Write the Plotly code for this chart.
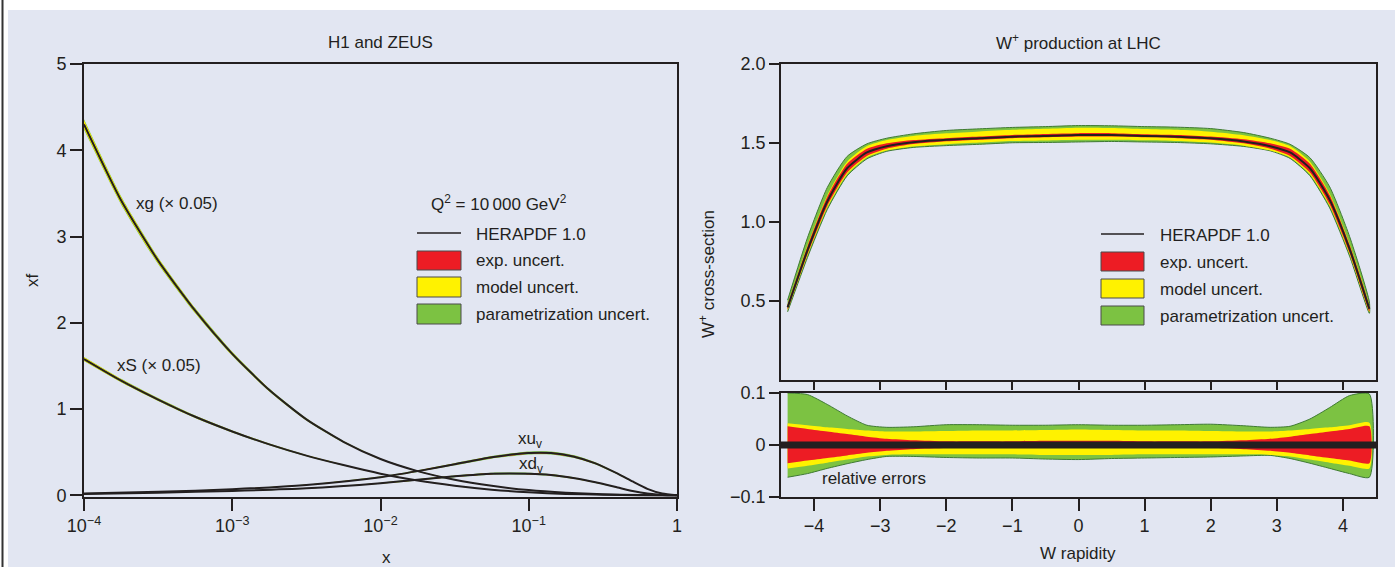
import plotly.graph_objects as go

W, H = 1395, 567
INK = "#231f20"
BG = "#e2e6f2"
RED = "#ed1c24"
YELLOW = "#fff200"
GREEN = "#7cc242"
GREEN_EDGE = "#3f7a34"
FONT = "Liberation Sans, Arial, sans-serif"

# ---------------- left panel: HERAPDF 1.0 at Q^2 = 10^4 GeV^2 ----------------
log_x_sea = [-4.0, -3.75, -3.5, -3.25, -3.0, -2.75, -2.5, -2.25, -2.0,
             -1.75, -1.5, -1.25, -1.0, -0.75, -0.5, -0.25, 0.0]
xg_scaled = [4.30, 3.42, 2.72, 2.14, 1.64, 1.22, 0.88, 0.62, 0.42,
             0.28, 0.18, 0.11, 0.06, 0.03, 0.011, 0.002, 0.0]
xS_scaled = [1.58, 1.33, 1.11, 0.91, 0.74, 0.59, 0.46, 0.35, 0.25,
             0.17, 0.11, 0.065, 0.035, 0.016, 0.006, 0.001, 0.0]

log_x_val = [-4.0, -3.5, -3.0, -2.5, -2.0, -1.75, -1.5, -1.25, -1.0,
             -0.85, -0.7, -0.55, -0.4, -0.3, -0.2, -0.1, 0.0]
xuv = [0.02, 0.04, 0.07, 0.12, 0.21, 0.28, 0.36, 0.44, 0.49,
       0.49, 0.45, 0.37, 0.25, 0.16, 0.075, 0.02, 0.0]
xdv = [0.015, 0.03, 0.05, 0.08, 0.14, 0.18, 0.22, 0.25, 0.25,
       0.235, 0.20, 0.15, 0.09, 0.05, 0.02, 0.004, 0.0]

# relative uncertainty per distribution: xg, xS, xuv, xdv
pdf_names = ["xg", "xS", "xuv", "xdv"]
rel_exp = [0.003, 0.004, 0.015, 0.02]
rel_model = [0.008, 0.008, 0.005, 0.006]
rel_param = [0.003, 0.003, 0.015, 0.02]

# ---------------- right panel: W+ production at LHC ----------------
rapidity = [-4.4, -4.1, -3.8, -3.5, -3.2, -2.9, -2.5, -2.0, -1.5, -1.0, -0.5, 0.0,
            0.5, 1.0, 1.5, 2.0, 2.5, 2.9, 3.2, 3.5, 3.8, 4.1, 4.4]
w_xsec = [0.46, 0.82, 1.13, 1.34, 1.44, 1.48, 1.505, 1.52, 1.53, 1.54, 1.545, 1.55,
          1.55, 1.545, 1.54, 1.53, 1.51, 1.48, 1.44, 1.34, 1.14, 0.83, 0.45]

# relative error band edges
green_hi = [0.100, 0.097, 0.078, 0.056, 0.038, 0.034, 0.035, 0.039, 0.039, 0.038, 0.038, 0.039,
            0.038, 0.038, 0.039, 0.040, 0.037, 0.034, 0.036, 0.050, 0.072, 0.095, 0.098]
yellow_hi = [0.042, 0.038, 0.034, 0.031, 0.028, 0.026, 0.026, 0.027, 0.028, 0.028, 0.029, 0.030,
             0.029, 0.028, 0.028, 0.027, 0.026, 0.026, 0.028, 0.031, 0.034, 0.038, 0.043]
red_hi = [0.036, 0.031, 0.026, 0.021, 0.016, 0.012, 0.009, 0.007, 0.007, 0.007, 0.008, 0.008,
          0.008, 0.007, 0.007, 0.007, 0.009, 0.012, 0.016, 0.021, 0.026, 0.031, 0.036]
red_lo = [-0.035, -0.030, -0.025, -0.020, -0.015, -0.011, -0.008, -0.006, -0.006, -0.006, -0.006, -0.006,
          -0.006, -0.006, -0.006, -0.006, -0.008, -0.011, -0.015, -0.020, -0.025, -0.030, -0.035]
yellow_lo = [-0.045, -0.040, -0.034, -0.028, -0.022, -0.019, -0.018, -0.018, -0.018, -0.018, -0.019, -0.019,
             -0.019, -0.018, -0.018, -0.018, -0.018, -0.019, -0.022, -0.028, -0.034, -0.040, -0.045]
green_lo = [-0.062, -0.055, -0.045, -0.036, -0.028, -0.022, -0.022, -0.024, -0.025, -0.025, -0.027, -0.028,
            -0.026, -0.025, -0.024, -0.023, -0.021, -0.020, -0.026, -0.035, -0.045, -0.055, -0.062]

sea_x = [10 ** v for v in log_x_sea]
val_x = [10 ** v for v in log_x_val]

fig = go.Figure()


def band(xs, lo, hi, color, xa, ya, edge=None):
    fig.add_trace(go.Scatter(
        x=list(xs) + list(xs)[::-1], y=list(hi) + list(lo)[::-1],
        fill="toself", fillcolor=color, mode="lines",
        line=dict(color=edge or color, width=1 if edge else 0, shape="spline", smoothing=0.6),
        xaxis=xa, yaxis=ya, hoverinfo="skip", showlegend=False))


def curve(xs, ys, xa, ya, width=2):
    fig.add_trace(go.Scatter(x=xs, y=ys, mode="lines",
                             line=dict(color=INK, width=width, shape="spline", smoothing=0.6),
                             xaxis=xa, yaxis=ya, hoverinfo="skip", showlegend=False))


# PDF bands: parametrization (outer), model, experimental (inner)
pdf_series = [(sea_x, xg_scaled), (sea_x, xS_scaled), (val_x, xuv), (val_x, xdv)]
for i, (xs, ys) in enumerate(pdf_series):
    e, m, p = rel_exp[i], rel_model[i], rel_param[i]
    for width, col in ((e + m + p, GREEN), (e + m, YELLOW), (e, RED)):
        band(xs, [v * (1 - width) for v in ys], [v * (1 + width) for v in ys], col, "x", "y")
for xs, ys in pdf_series:
    curve(xs, ys, "x", "y")

# W+ cross-section with bands
band(rapidity, [s * (1 + r) for s, r in zip(w_xsec, green_lo)],
     [s * (1 + r) for s, r in zip(w_xsec, green_hi)], GREEN, "x2", "y2", edge=GREEN_EDGE)
band(rapidity, [s * (1 + r) for s, r in zip(w_xsec, yellow_lo)],
     [s * (1 + r) for s, r in zip(w_xsec, yellow_hi)], YELLOW, "x2", "y2")
band(rapidity, [s * (1 + r) for s, r in zip(w_xsec, red_lo)],
     [s * (1 + r) for s, r in zip(w_xsec, red_hi)], RED, "x2", "y2")
curve(rapidity, w_xsec, "x2", "y2", width=2)

# relative errors
band(rapidity, green_lo, green_hi, GREEN, "x3", "y3", edge=GREEN_EDGE)
band(rapidity, yellow_lo, yellow_hi, YELLOW, "x3", "y3")
band(rapidity, red_lo, red_hi, RED, "x3", "y3")


def px_x(p):
    return p / W


def px_y(p):
    return 1 - p / H


tick_font = dict(family=FONT, size=18, color=INK)
axis_common = dict(showline=True, linecolor=INK, linewidth=1.6, mirror=True, automargin=False,
                   showgrid=False, zeroline=False, ticks="outside", tickcolor=INK,
                   tickwidth=1.5, tickfont=tick_font)

fig.update_layout(
    template="none",
    width=W, height=H, margin=dict(l=0, r=0, t=0, b=0, pad=0),
    paper_bgcolor="white", plot_bgcolor=BG, showlegend=False,
    font=dict(family=FONT, size=17, color=INK),
    xaxis=dict(domain=[px_x(84), px_x(677)], type="log", range=[-4, 0],
               tickvals=[1e-4, 1e-3, 1e-2, 1e-1, 1],
               ticktext=["10<sup>\u22124</sup>", "10<sup>\u22123</sup>", "10<sup>\u22122</sup>",
                         "10<sup>\u22121</sup>", "1"],
               ticklen=12, anchor="y", **axis_common),
    yaxis=dict(domain=[px_y(497), px_y(64)], range=[-0.02, 5], tickvals=[0, 1, 2, 3, 4, 5],
               ticklen=12, anchor="x", **axis_common),
    xaxis2=dict(domain=[px_x(781), px_x(1376)], range=[-4.5, 4.5], tickvals=[-4, -3, -2, -1, 0, 1, 2, 3, 4],
                showticklabels=False, ticklen=8, anchor="y2", **axis_common),
    yaxis2=dict(domain=[px_y(380), px_y(64)], range=[0, 2], tickvals=[0.5, 1.0, 1.5, 2.0],
                tickformat=".1f", ticklen=10, anchor="x2", **axis_common),
    xaxis3=dict(domain=[px_x(781), px_x(1376)], range=[-4.5, 4.5], tickvals=[-4, -3, -2, -1, 0, 1, 2, 3, 4],
                ticklen=12, anchor="y3", **axis_common),
    yaxis3=dict(domain=[px_y(497), px_y(393)], range=[-0.1, 0.1], tickvals=[-0.1, 0, 0.1],
                ticktext=["\u22120.1", "0", "0.1"], ticklen=10, anchor="x3", **axis_common),
)

shapes = [
    # page background and left rule
    dict(type="rect", xref="paper", yref="paper", x0=px_x(8), x1=1, y0=0, y1=px_y(10),
         fillcolor=BG, line=dict(width=0), layer="below"),
    dict(type="line", xref="paper", yref="paper", x0=px_x(2.5), x1=px_x(2.5), y0=0, y1=1,
         line=dict(color="#333333", width=2), layer="below"),
    # zero line of the relative errors
    dict(type="line", xref="x3 domain", yref="y3", x0=0, x1=1, y0=0, y1=0,
         line=dict(color=INK, width=7)),
]

annotations = []


def ann(text, x, y, xanchor="center", yanchor="middle", angle=0, size=17):
    annotations.append(dict(text=text, x=px_x(x), y=px_y(y), xref="paper", yref="paper",
                            xanchor=xanchor, yanchor=yanchor, showarrow=False, textangle=angle,
                            font=dict(family=FONT, size=size, color=INK)))


def legend(x0, x1, y_line, rows, text_x, text_ys):
    shapes.append(dict(type="line", xref="paper", yref="paper", x0=px_x(x0), x1=px_x(x1),
                       y0=px_y(y_line), y1=px_y(y_line), line=dict(color=INK, width=1.5)))
    for (ya, yb), col in zip(rows, (RED, YELLOW, GREEN)):
        shapes.append(dict(type="rect", xref="paper", yref="paper", x0=px_x(x0), x1=px_x(x1),
                           y0=px_y(yb), y1=px_y(ya), fillcolor=col,
                           line=dict(color="#4a4a4a", width=1)))
    for t, ty in zip(["HERAPDF 1.0", "exp. uncert.", "model uncert.", "parametrization uncert."], text_ys):
        ann(t, text_x, ty, xanchor="left")


legend(417, 461, 233, [(251, 270), (277, 297), (304, 324)], 474, [234, 261, 287, 314])
legend(1101, 1144, 234, [(252, 271), (279, 298), (306, 325)], 1158, [235, 262, 289, 316])

ann("H1 and ZEUS", 380, 42)
ann("W<sup>+</sup> production at LHC", 1078, 42)
ann("xf", 32, 280, angle=-90)
ann("x", 386, 557)
ann("W<sup>+</sup> cross-section", 707, 274, angle=-90)
ann("W rapidity", 1078, 553)
ann("relative errors", 820, 478, xanchor="left")
ann("Q<sup>2</sup> = 10\u2009000 GeV<sup>2</sup>", 429, 203, xanchor="left")
ann("xg (\u00d7 0.05)", 134, 203, xanchor="left")
ann("xS (\u00d7 0.05)", 115, 365, xanchor="left")
ann("xu<sub>v</sub>", 516, 440, xanchor="left")
ann("xd<sub>v</sub>", 517, 465, xanchor="left")

fig.update_layout(shapes=shapes, annotations=annotations)
fig.write_html("out.html")
